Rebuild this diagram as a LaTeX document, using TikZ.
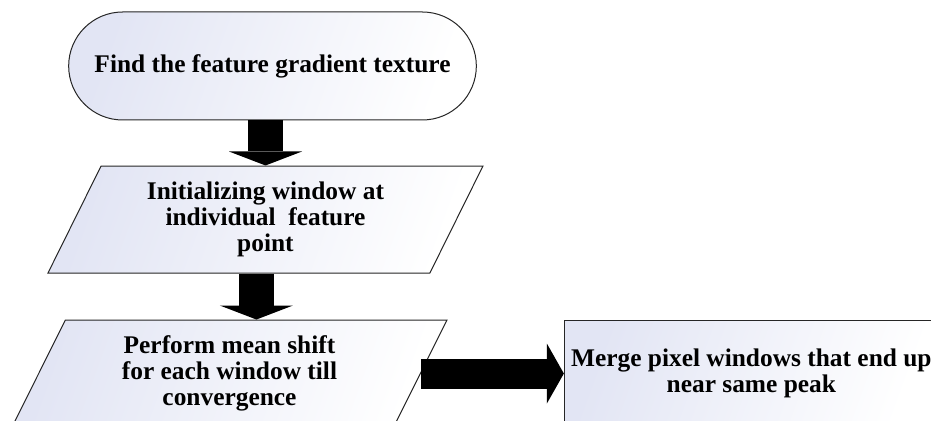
\documentclass[tikz,border=0pt]{standalone}
\usepackage{fontspec}
\setmainfont{Liberation Serif}
\usetikzlibrary{shapes.geometric, shapes.misc, arrows.meta, positioning}
\definecolor{fillblue}{RGB}{226,229,244}
\tikzset{
    base/.style = {draw=black!85, line width=0.5pt, align=center, font=\fontsize{12.7}{13}\selectfont\bfseries,
                   left color=fillblue, right color=white, shading angle=70},
    term/.style = {base, rounded rectangle, minimum width=210.5pt, minimum height=54pt},
    io/.style   = {base, trapezium, trapezium left angle=59, trapezium right angle=121, trapezium stretches body,
                   minimum width=217.5pt, minimum height=53.5pt},
    proc/.style = {base, rectangle, minimum width=186.5pt, minimum height=53.5pt},
    arrow/.style = {draw=black, line width=17.5pt, -{Triangle[width=36.5pt, length=7pt, line width=0pt]}},
    sidearrow/.style = {draw=black, line width=15pt, -{Triangle[width=30pt, length=8.5pt, line width=0pt]}}
}

\begin{document}
\begin{tikzpicture}[x=0.5pt, y=-0.5pt]
    \useasboundingbox (0,0) rectangle (931,421);
    \clip (0,0) rectangle (931,421);

    % Start
    \node (find) [term] at (272.5,66) {Find the feature gradient texture};

    % Windows
    \node (init) [io, below=22.5pt of find, xshift=-3.5pt] {Initializing window at\\individual\ \ feature\\point};
    \node (shift) [io, below=23pt of init, xshift=-18pt] {Perform mean shift\\for each window till\\convergence};

    % Merge step
    \node (merge) [proc, right=71.5pt of shift] {Merge pixel windows that end up\\near same peak};

    % Block arrows
    \draw [arrow] (find.south -| init.north) -- (init.north);
    \draw [arrow] (init.bottom side -| shift.top side) -- (shift.top side);
    \draw [sidearrow] (shift.east) -- (shift.east -| merge.west);
\end{tikzpicture}
\end{document}
